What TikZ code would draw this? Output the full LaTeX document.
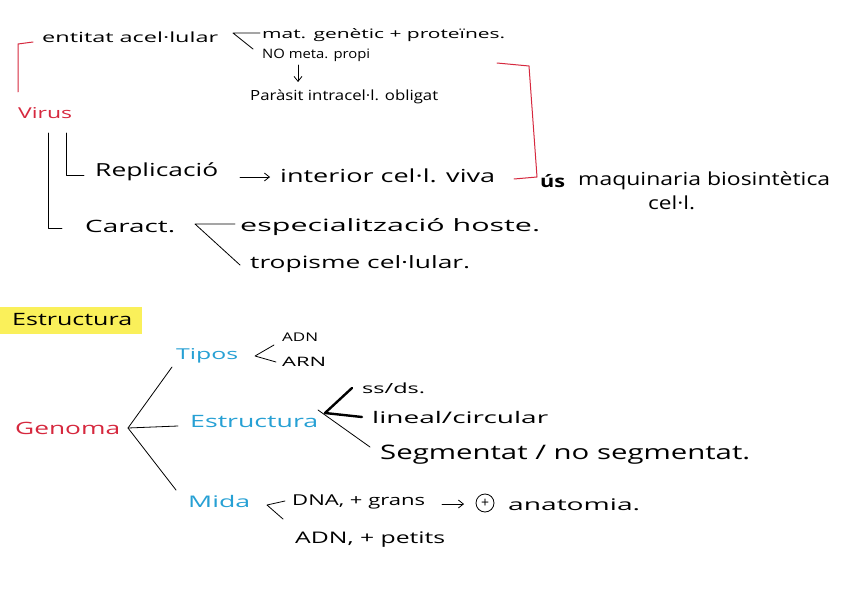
\documentclass[tikz,border=0pt]{standalone}
\usepackage{fontspec}
\setmainfont{Open Sans}
\usepackage{graphicx}
\usetikzlibrary{arrows.meta}
\definecolor{hwred}{RGB}{214,40,62}
\definecolor{hwblue}{RGB}{38,160,212}
\definecolor{hlyellow}{RGB}{250,240,90}
\newcommand\hw[3]{\fontsize{#2}{#2}\selectfont\resizebox{#1pt}{\height}{#3}}
\tikzset{
  txt/.style={anchor=west,inner sep=0pt,text=black},
  ln/.style={draw=black,line width=0.8pt,line cap=round,line join=round},
  rln/.style={draw=hwred,line width=1pt,line cap=round,line join=round},
  arr/.style={ln,-{Straight Barb[length=5pt,width=8pt]}}
}
\begin{document}
\begin{tikzpicture}[x=1pt,y=-1pt]
\useasboundingbox (0,0) rectangle (848,599);
\fill[white] (0,0) rectangle (848,599);
% ---------- Virus block ----------
\node[txt] (ent) at (42,37) {\hw{176}{14}{entitat acel·lular}};
\node[txt] (mat) at (262,35) {\hw{243}{13}{mat. genètic + proteïnes.}};
\node[txt] (nom) at (262,55) {\hw{108}{13}{NO meta. propi}};
\node[txt] (par) at (250,97) {\hw{188}{14}{Paràsit intracel·l. obligat}};
\node[txt,text=hwred] (vir) at (18,113) {\hw{54}{15}{Virus}};
\node[txt] (rep) at (95,172) {\hw{123}{18}{Replicació}};
\node[txt] (int) at (280,176) {\hw{215}{18}{interior cel·l. viva}};
\node[txt] (us) at (540,181) {\hw{25}{17}{\bfseries ús}};
\node[txt] (maq) at (578,181) {\hw{252}{18}{maquinaria biosintètica}};
\node[txt] (cel) at (648,203) {\hw{47}{18}{cel·l.}};
\node[txt] (car) at (85,226) {\hw{90}{17}{Caract.}};
\node[txt] (esp) at (240,227) {\hw{300}{17}{especialització hoste.}};
\node[txt] (tro) at (250,264) {\hw{220}{17}{tropisme cel·lular.}};
% brackets
\coordinate (lb1) at (33,42); \coordinate (lb2) at (18,44); \coordinate (lb3) at (18,92);
\draw[rln] (lb1) -- (lb2) -- (lb3);
\coordinate (rb1) at (497,63); \coordinate (rb2) at (529,66);
\coordinate (rb3) at (537,177); \coordinate (rb4) at (514,179);
\draw[rln] (rb1) -- (rb2) -- (rb3) -- (rb4);
% < entitat
\coordinate (v1) at (233,33); \coordinate (v1a) at (260,33); \coordinate (v1b) at (253,49);
\draw[ln] (v1a) -- (v1) -- (v1b);
% arrow down
\coordinate (d1) at (298,65); \coordinate (d2) at (298,82);
\draw[arr] (d1) -- (d2);
% Virus tree
\coordinate (t1) at (48,133); \coordinate (t2) at (48,228); \coordinate (t3) at (62,228);
\draw[ln] (t1) -- (t2) -- (t3);
\coordinate (s1) at (66,133); \coordinate (s2) at (66,175); \coordinate (s3) at (84,175);
\draw[ln] (s1) -- (s2) -- (s3);
% arrow replicacio
\coordinate (a1) at (240,177); \coordinate (a2) at (270,177);
\draw[arr] (a1) -- (a2);
% < caract
\coordinate (c0) at (195,224); \coordinate (c1) at (235,224); \coordinate (c2) at (240,265);
\draw[ln] (c1) -- (c0) -- (c2);
% ---------- Estructura block ----------
\fill[hlyellow] (0,307) rectangle (142,334);
\node[txt] (head) at (12,320) {\hw{120}{17}{Estructura}};
\node[txt,text=hwblue] (tip) at (176,356) {\hw{62}{15}{Tipos}};
\node[txt] (adn) at (282,337) {\hw{36}{12}{ADN}};
\node[txt] (arn) at (282,362) {\hw{44}{13}{ARN}};
\node[txt,text=hwred] (gen) at (15,428) {\hw{105}{17}{Genoma}};
\node[txt,text=hwblue] (estb) at (190,422) {\hw{128}{17}{Estructura}};
\node[txt] (ss) at (362,388) {\hw{63}{14}{ss/ds.}};
\node[txt] (lin) at (372,417) {\hw{176}{16}{lineal/circular}};
\node[txt] (seg) at (380,455) {\hw{370}{20}{Segmentat / no segmentat.}};
\node[txt,text=hwblue] (mid) at (188,501) {\hw{62}{16}{Mida}};
\node[txt] (dna) at (292,502) {\hw{133}{15}{DNA, + grans}};
\node[inner sep=0pt] (circ) at (485,503) {\fontsize{14}{14}\selectfont +};
\draw[ln] (circ.center) circle (9);
\node[txt] (ana) at (508,505) {\hw{132}{16}{anatomia.}};
\node[txt] (adnp) at (295,540) {\hw{150}{16}{ADN, + petits}};
% < tipos
\coordinate (p0) at (255,356); \coordinate (p1) at (274,345); \coordinate (p2) at (276,362);
\draw[ln] (p1) -- (p0) -- (p2);
% genoma tree
\coordinate (g0) at (128,428); \coordinate (g1) at (172,367); \coordinate (g2) at (178,426); \coordinate (g3) at (176,490);
\draw[ln] (g1) -- (g0) -- (g3); \draw[ln] (g0) -- (g2);
% estructura <
\coordinate (e0) at (325,413); \coordinate (e1) at (352,388); \coordinate (e2) at (362,417);
\draw[ln,line width=2.4pt] (e1) -- (e0) -- (e2);
\coordinate (e3) at (318,410); \coordinate (e4) at (370,447);
\draw[ln] (e3) -- (e4);
% mida <
\coordinate (m0) at (267,505); \coordinate (m1) at (285,501); \coordinate (m2) at (283,519);
\draw[ln] (m1) -- (m0) -- (m2);
% arrow dna
\coordinate (k1) at (442,504); \coordinate (k2) at (464,504);
\draw[arr] (k1) -- (k2);
\end{tikzpicture}
\end{document}
